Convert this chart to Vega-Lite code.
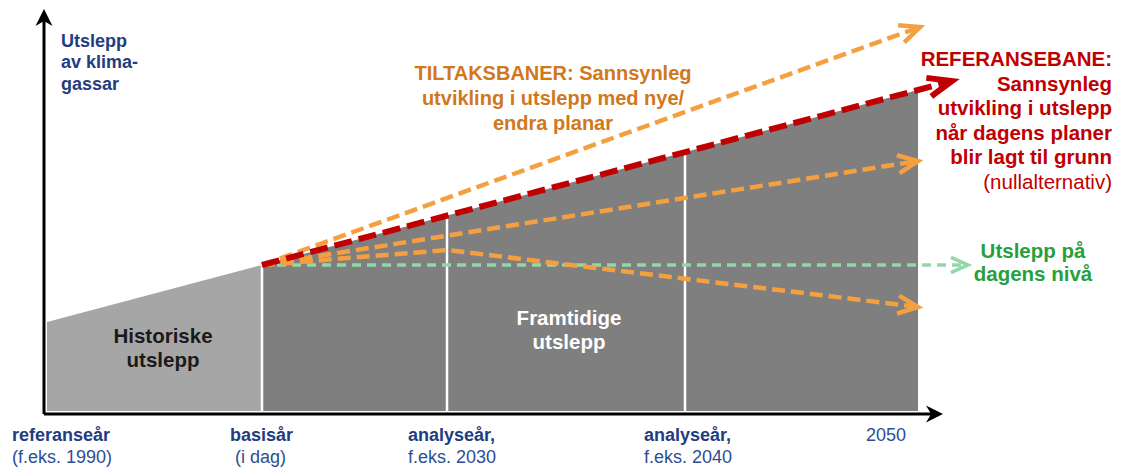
{
  "$schema": "https://vega.github.io/schema/vega-lite/v6.json",
  "width": 1125,
  "height": 468,
  "autosize": {"type": "fit", "contains": "padding"},
  "padding": 0,
  "background": "white",
  "config": {
    "view": {"stroke": null},
    "axis": {"disable": true},
    "legend": {"disable": true},
    "text": {"font": "Liberation Sans"}
  },
  "datasets": {
    "areas": [
      {"part": "hist", "x": 47, "top": 146, "base": 57},
      {"part": "hist", "x": 262, "top": 203, "base": 57},
      {"part": "fut", "x": 262, "top": 203, "base": 57},
      {"part": "fut", "x": 918, "top": 378, "base": 57}
    ],
    "dividers": [
      {"x": 262, "top": 203, "base": 57},
      {"x": 447, "top": 252, "base": 57},
      {"x": 685, "top": 316, "base": 57}
    ],
    "axes": [
      {"axis": "y", "x1": 44, "x2": 44, "y1": 54, "y2": 447},
      {"axis": "x", "x1": 44, "x2": 933, "y1": 54, "y2": 54}
    ],
    "axisheads": [
      {"axis": "y", "x": 44, "y": 459, "angle": -90},
      {"axis": "x", "x": 943, "y": 54, "angle": 0}
    ],
    "paths": [
      {"series": "flat", "order": 1, "x": 262, "y": 203},
      {"series": "flat", "order": 2, "x": 965, "y": 203},
      {"series": "up", "order": 1, "x": 262, "y": 203},
      {"series": "up", "order": 2, "x": 917, "y": 440},
      {"series": "mid", "order": 1, "x": 262, "y": 203},
      {"series": "mid", "order": 2, "x": 915, "y": 306.5},
      {"series": "low", "order": 1, "x": 262, "y": 203},
      {"series": "low", "order": 2, "x": 447, "y": 218},
      {"series": "low", "order": 3, "x": 915, "y": 161.5},
      {"series": "ref", "order": 1, "x": 262, "y": 203},
      {"series": "ref", "order": 2, "x": 948, "y": 386}
    ],
    "heads": [
      {"series": "flat", "x": 968, "y": 203, "angle": 0},
      {"series": "up", "x": 920, "y": 441, "angle": -19.9},
      {"series": "mid", "x": 918, "y": 307, "angle": -9.0},
      {"series": "low", "x": 918, "y": 161, "angle": 6.9},
      {"series": "ref", "x": 952, "y": 387, "angle": -14.9}
    ],
    "texts": [
      {"group": "ylabel", "x": 61, "y": 421, "label": "Utslepp"},
      {"group": "ylabel", "x": 61, "y": 400, "label": "av klima-"},
      {"group": "ylabel", "x": 61, "y": 378, "label": "gassar"},
      {"group": "tiltak", "x": 553, "y": 388, "label": "TILTAKSBANER: Sannsynleg"},
      {"group": "tiltak", "x": 553, "y": 363, "label": "utvikling i utslepp med nye/"},
      {"group": "tiltak", "x": 553, "y": 338, "label": "endra planar"},
      {"group": "ref", "x": 1112, "y": 402, "label": "REFERANSEBANE:"},
      {"group": "ref", "x": 1112, "y": 377.5, "label": "Sannsynleg"},
      {"group": "ref", "x": 1112, "y": 353, "label": "utvikling i utslepp"},
      {"group": "ref", "x": 1112, "y": 328.5, "label": "når dagens planer"},
      {"group": "ref", "x": 1112, "y": 304, "label": "blir lagt til grunn"},
      {"group": "refnote", "x": 1112, "y": 279.5, "label": "(nullalternativ)"},
      {"group": "flat", "x": 1033, "y": 210, "label": "Utslepp på"},
      {"group": "flat", "x": 1033, "y": 187, "label": "dagens nivå"},
      {"group": "hist", "x": 163, "y": 125, "label": "Historiske"},
      {"group": "hist", "x": 163, "y": 101, "label": "utslepp"},
      {"group": "fut", "x": 569, "y": 143, "label": "Framtidige"},
      {"group": "fut", "x": 569, "y": 119, "label": "utslepp"},
      {"group": "xbold", "x": 12, "y": 27, "label": "referanseår"},
      {"group": "xnote", "x": 12, "y": 5, "label": "(f.eks. 1990)"},
      {"group": "xbold", "x": 230, "y": 27, "label": "basisår"},
      {"group": "xnote", "x": 235, "y": 5, "label": "(i dag)"},
      {"group": "xbold", "x": 408, "y": 27, "label": "analyseår,"},
      {"group": "xnote", "x": 408, "y": 5, "label": "f.eks. 2030"},
      {"group": "xbold", "x": 644, "y": 27, "label": "analyseår,"},
      {"group": "xnote", "x": 644, "y": 5, "label": "f.eks. 2040"},
      {"group": "xnote", "x": 866, "y": 27, "label": "2050"}
    ]
  },
  "encoding": {
    "x": {"field": "x", "type": "quantitative", "scale": {"domain": [0, 1125], "nice": false, "zero": false}, "axis": null},
    "y": {"field": "y", "type": "quantitative", "scale": {"domain": [0, 468], "nice": false, "zero": false}, "axis": null}
  },
  "layer": [
    {
      "data": {"name": "areas"},
      "mark": {"type": "area", "opacity": 1},
      "encoding": {
        "y": {"field": "top", "type": "quantitative"},
        "y2": {"field": "base"},
        "color": {"field": "part", "type": "nominal", "scale": {"domain": ["hist", "fut"], "range": ["#a6a6a6", "#7f7f7f"]}, "legend": null}
      }
    },
    {
      "data": {"name": "dividers"},
      "mark": {"type": "rule", "color": "white", "strokeWidth": 2.5},
      "encoding": {
        "y": {"field": "top", "type": "quantitative"},
        "y2": {"field": "base"}
      }
    },
    {
      "data": {"name": "axes"},
      "mark": {"type": "rule", "color": "black", "strokeWidth": 3},
      "encoding": {
        "x": {"field": "x1", "type": "quantitative"},
        "x2": {"field": "x2"},
        "y": {"field": "y1", "type": "quantitative"},
        "y2": {"field": "y2"}
      }
    },
    {
      "data": {"name": "axisheads"},
      "mark": {"type": "point", "shape": "M 0 0 L -1 -0.5 L -0.7 0 L -1 0.5 Z", "filled": true, "color": "black", "opacity": 1, "size": 1156},
      "encoding": {
        "angle": {"field": "angle", "type": "quantitative", "scale": null}
      }
    },
    {
      "data": {"name": "paths"},
      "transform": [{"filter": "datum.series === 'flat'"}],
      "mark": {"type": "line", "color": "#93d6a7", "strokeWidth": 3.5, "strokeDash": [9, 6]},
      "encoding": {
        "order": {"field": "order", "type": "quantitative"}
      }
    },
    {
      "data": {"name": "paths"},
      "transform": [{"filter": "datum.series === 'up' || datum.series === 'mid' || datum.series === 'low'"}],
      "mark": {"type": "line", "color": "#f5a040", "strokeWidth": 4.5, "strokeDash": [13, 6]},
      "encoding": {
        "detail": {"field": "series", "type": "nominal"},
        "order": {"field": "order", "type": "quantitative"}
      }
    },
    {
      "data": {"name": "paths"},
      "transform": [{"filter": "datum.series === 'ref'"}],
      "mark": {"type": "line", "color": "#c00000", "strokeWidth": 6, "strokeDash": [18, 7]},
      "encoding": {
        "order": {"field": "order", "type": "quantitative"}
      }
    },
    {
      "data": {"name": "heads"},
      "transform": [{"filter": "datum.series === 'flat'"}],
      "mark": {"type": "point", "shape": "M -1 -0.45 L 0 0 L -1 0.45", "filled": false, "color": "#93d6a7", "strokeWidth": 3.5, "opacity": 1, "size": 1156, "strokeJoin": "miter"},
      "encoding": {
        "angle": {"field": "angle", "type": "quantitative", "scale": null}
      }
    },
    {
      "data": {"name": "heads"},
      "transform": [{"filter": "datum.series === 'up' || datum.series === 'mid' || datum.series === 'low'"}],
      "mark": {"type": "point", "shape": "M -1 -0.45 L 0 0 L -1 0.45", "filled": false, "color": "#f5a040", "strokeWidth": 4.5, "opacity": 1, "size": 1600, "strokeJoin": "miter"},
      "encoding": {
        "angle": {"field": "angle", "type": "quantitative", "scale": null}
      }
    },
    {
      "data": {"name": "heads"},
      "transform": [{"filter": "datum.series === 'ref'"}],
      "mark": {"type": "point", "shape": "M -1 -0.4 L 0 0 L -1 0.4", "filled": false, "color": "#c00000", "strokeWidth": 6, "opacity": 1, "size": 2304, "strokeJoin": "miter"},
      "encoding": {
        "angle": {"field": "angle", "type": "quantitative", "scale": null}
      }
    },
    {
      "data": {"name": "texts"},
      "transform": [{"filter": "datum.group === 'ylabel'"}],
      "mark": {"type": "text", "align": "left", "baseline": "alphabetic", "fontWeight": "bold", "fontSize": 18, "color": "#1f3d7f"},
      "encoding": {"text": {"field": "label"}}
    },
    {
      "data": {"name": "texts"},
      "transform": [{"filter": "datum.group === 'tiltak'"}],
      "mark": {"type": "text", "align": "center", "baseline": "alphabetic", "fontWeight": "bold", "fontSize": 20, "color": "#d1771c"},
      "encoding": {"text": {"field": "label"}}
    },
    {
      "data": {"name": "texts"},
      "transform": [{"filter": "datum.group === 'ref'"}],
      "mark": {"type": "text", "align": "right", "baseline": "alphabetic", "fontWeight": "bold", "fontSize": 20.5, "color": "#c00000"},
      "encoding": {"text": {"field": "label"}}
    },
    {
      "data": {"name": "texts"},
      "transform": [{"filter": "datum.group === 'refnote'"}],
      "mark": {"type": "text", "align": "right", "baseline": "alphabetic", "fontWeight": "normal", "fontSize": 20.5, "color": "#c00000"},
      "encoding": {"text": {"field": "label"}}
    },
    {
      "data": {"name": "texts"},
      "transform": [{"filter": "datum.group === 'flat'"}],
      "mark": {"type": "text", "align": "center", "baseline": "alphabetic", "fontWeight": "bold", "fontSize": 20.5, "color": "#27a03c"},
      "encoding": {"text": {"field": "label"}}
    },
    {
      "data": {"name": "texts"},
      "transform": [{"filter": "datum.group === 'hist'"}],
      "mark": {"type": "text", "align": "center", "baseline": "alphabetic", "fontWeight": "bold", "fontSize": 20.5, "color": "#1a1a1a"},
      "encoding": {"text": {"field": "label"}}
    },
    {
      "data": {"name": "texts"},
      "transform": [{"filter": "datum.group === 'fut'"}],
      "mark": {"type": "text", "align": "center", "baseline": "alphabetic", "fontWeight": "bold", "fontSize": 20.5, "color": "#ffffff"},
      "encoding": {"text": {"field": "label"}}
    },
    {
      "data": {"name": "texts"},
      "transform": [{"filter": "datum.group === 'xbold'"}],
      "mark": {"type": "text", "align": "left", "baseline": "alphabetic", "fontWeight": "bold", "fontSize": 18, "color": "#1f3d7f"},
      "encoding": {"text": {"field": "label"}}
    },
    {
      "data": {"name": "texts"},
      "transform": [{"filter": "datum.group === 'xnote'"}],
      "mark": {"type": "text", "align": "left", "baseline": "alphabetic", "fontWeight": "normal", "fontSize": 18, "color": "#2c4e95"},
      "encoding": {"text": {"field": "label"}}
    }
  ]
}
